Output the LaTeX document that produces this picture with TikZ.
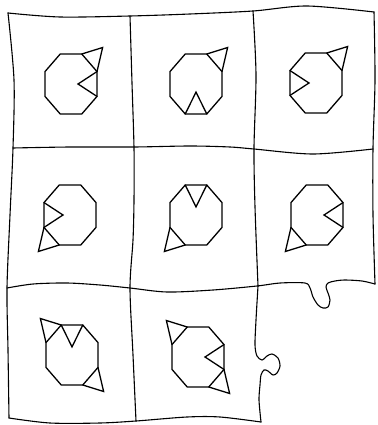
\documentclass[tikz,border=0pt]{standalone}
\begin{document}
\begin{tikzpicture}[x=1pt, y=-1pt, line cap=round,
        frame/.style={line width=1.1pt},
        cat/.style={line width=1.3pt},
        cell/.style 2 args={xshift=#1pt, yshift=-#2pt, x=26pt, y=30pt}]
        \useasboundingbox (0,0) rectangle (377,425);

        % draw outer edges
        \draw[frame] plot[smooth] coordinates {(8,13) (60,17) (130,16) (190,14) (253,11) (307,6) (374,12)};
        \draw[frame] plot[smooth] coordinates {(8,13) (14,80) (13,148) (10,215) (7,288) (8,350) (9,418)};
        \draw[frame] plot[smooth] coordinates {(374,12) (375,80) (373,148) (373,215) (375,284)};
        \draw[frame] plot[smooth] coordinates {(9,418) (50,423) (100,423) (136,421) (187,417) (220,417) (261,422)};

        % draw inner lines
        \draw[frame] plot[smooth] coordinates {(130,16) (132,83) (134,148) (134,200) (133,240) (130,288) (133,355) (136,421)};
        \draw[frame] plot[smooth] coordinates {(253,11) (256,75) (254,148) (255,207) (258,286)};
        \draw[frame] plot[smooth] coordinates {(13,148) (70,147) (134,147) (190,146) (230,147) (254,149) (313,154) (373,149)};

        % draw lines with puzzle tabs
        \draw[frame] plot[smooth, tension=0.5] coordinates {(258,286) (256,320) (255,345) (257,356) (262,360) (267,356) (272,354) (278,358) (280,366) (277,373) (273,375) (268,371) (264,370) (261,375) (260,385) (259,400) (261,422)};
        \draw[frame] plot[smooth, tension=0.5] coordinates {(7,288) (33,284) (67,283) (100,285) (130,288) (167,292) (213,290) (257,286) (280,283) (305,283) (310,288) (313,297) (318,305) (323,308) (328,307) (330,300) (328,293) (326,287) (328,283) (335,281) (345,280) (362,281) (375,284)};

        % draw octagon heads
        \foreach \cx/\cy in {71/84, 196/84, 316/83, 70/215, 196/215, 317/215, 72/355, 198/357} {
            \draw[cat, cell={\cx}{\cy}] (22.5:1.0824) \foreach \k in {1,...,7} { -- (22.5+45*\k:1.0824) } -- cycle;
        }

        % draw ears
        \foreach \cx/\cy/\a in {71/84/45, 196/84/45, 316/83/45, 70/215/225, 196/215/225, 317/215/225, 72/355/135, 72/355/315, 198/357/135, 198/357/315} {
            \draw[cat, cell={\cx}{\cy}] (\a-22.5:1.0824) -- (\a:1.72) -- (\a+22.5:1.0824);
        }

        % draw notches
        \foreach \cx/\cy/\a in {71/84/0, 196/84/270, 316/83/180, 70/215/180, 196/215/90, 317/215/0, 72/355/90, 198/357/0} {
            \draw[cat, cell={\cx}{\cy}] (\a-22.5:1.0824) -- (\a:0.27) -- (\a+22.5:1.0824);
        }
    \end{tikzpicture}
\end{document}
